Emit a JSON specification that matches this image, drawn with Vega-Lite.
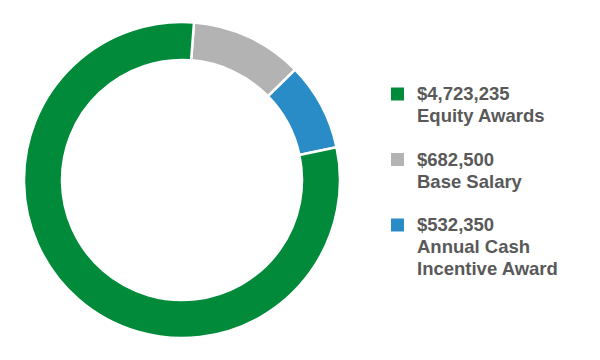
{
  "$schema": "https://vega.github.io/schema/vega-lite/v6.json",
  "padding": 0,
  "background": "white",
  "spacing": 20,
  "config": {"view": {"stroke": null}},
  "data": {
    "values": [
      {"label": "$682,500|Base Salary", "value": 682500, "order": 1},
      {"label": "$532,350|Annual Cash|Incentive Award", "value": 532350, "order": 2},
      {"label": "$4,723,235|Equity Awards", "value": 4723235, "order": 3}
    ]
  },
  "hconcat": [
    {
      "width": 364,
      "height": 360,
      "mark": {"type": "arc", "outerRadius": 158, "innerRadius": 120, "stroke": "white", "strokeWidth": 2.5},
      "encoding": {
        "theta": {"field": "value", "type": "quantitative", "stack": true, "scale": {"range": [0.076, 6.3592]}},
        "order": {"field": "order", "type": "ordinal"},
        "color": {
          "field": "label",
          "type": "nominal",
          "scale": {
            "domain": ["$4,723,235|Equity Awards", "$682,500|Base Salary", "$532,350|Annual Cash|Incentive Award"],
            "range": ["#008A3A", "#B3B3B3", "#2A8CC7"]
          },
          "legend": null
        }
      }
    },
    {
      "width": 27,
      "height": 360,
      "encoding": {
        "y": {
          "field": "label",
          "type": "nominal",
          "axis": null,
          "scale": {
            "type": "point",
            "padding": 0,
            "domain": ["$4,723,235|Equity Awards", "$682,500|Base Salary", "$532,350|Annual Cash|Incentive Award"],
            "range": [94, 225]
          }
        }
      },
      "layer": [
        {
          "mark": {"type": "point", "shape": "square", "filled": true, "size": 169, "opacity": 1},
          "encoding": {
            "color": {"field": "label", "type": "nominal", "legend": null}
          }
        },
        {
          "mark": {
            "type": "text",
            "align": "left",
            "baseline": "alphabetic",
            "dx": 19.5,
            "dy": 6,
            "font": "Liberation Sans",
            "fontSize": 18.5,
            "fontWeight": "bold",
            "color": "#595959",
            "lineBreak": "|",
            "lineHeight": 22
          },
          "encoding": {"text": {"field": "label"}}
        }
      ]
    }
  ]
}
